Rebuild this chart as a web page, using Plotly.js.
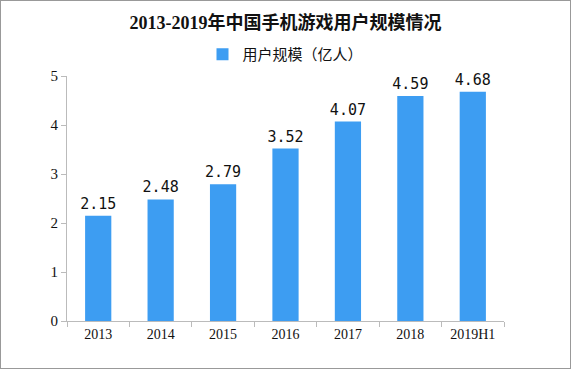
<!DOCTYPE html>
<html><head><meta charset="utf-8">
<script src="https://cdn.plot.ly/plotly-3.0.1.min.js"></script>
<style>html,body{margin:0;padding:0;background:#fff}#c{width:569px;height:367px;border:1px solid #999}</style>
</head><body><div id="c"></div>
<script>
const years = ["2013","2014","2015","2016","2017","2018","2019H1"];
const users = [2.15, 2.48, 2.79, 3.52, 4.07, 4.59, 4.68];
const seriesName = "用户规模（亿人）";
const yTicks = [0,1,2,3,4,5];

const trace = {
  type: "bar", x: years, y: users, name: seriesName,
  marker: {color: "#3d9df2"}, width: 0.42,
  text: users.map(v => v.toFixed(2)), textposition: "outside", constraintext: "none",
  textfont: {family: "DejaVu Sans Mono, Liberation Mono, monospace", size: 15, color: "#111"},
  cliponaxis: false
};
const layout = {
  width: 569, height: 367,
  margin: {l: 66, r: 66, t: 75, b: 47},
  paper_bgcolor: "#fff", plot_bgcolor: "#fff",
  title: {text: "<b>2013-2019年中国手机游戏用户规模情况</b>", x: 0.5, xanchor: "center", y: 0.94, yanchor: "middle",
    font: {family: "Liberation Serif, Noto Sans CJK SC, serif", size: 18, color: "#111"}},
  showlegend: true,
  legend: {orientation: "h", x: 0.5, xanchor: "center", y: 1.088, yanchor: "middle",
    font: {family: "Noto Sans CJK SC, sans-serif", size: 15, color: "#111"}, itemwidth: 30},
  xaxis: {type: "category", showline: true, linecolor: "#bbb", linewidth: 1, ticks: "outside", tickcolor: "#bbb", ticklen: 5,
    tickson: "boundaries", showgrid: false,
    tickfont: {family: "Liberation Serif, serif", size: 14, color: "#111"}},
  yaxis: {range: [0, 5], tickvals: yTicks, showline: true, linecolor: "#bbb", linewidth: 1,
    ticks: "outside", tickcolor: "#bbb", ticklen: 5, showgrid: false, zeroline: false,
    tickfont: {family: "Liberation Serif, serif", size: 15, color: "#111"}}
};
Plotly.newPlot("c", [trace], layout, {displayModeBar: false, staticPlot: true});
</script></body></html>
